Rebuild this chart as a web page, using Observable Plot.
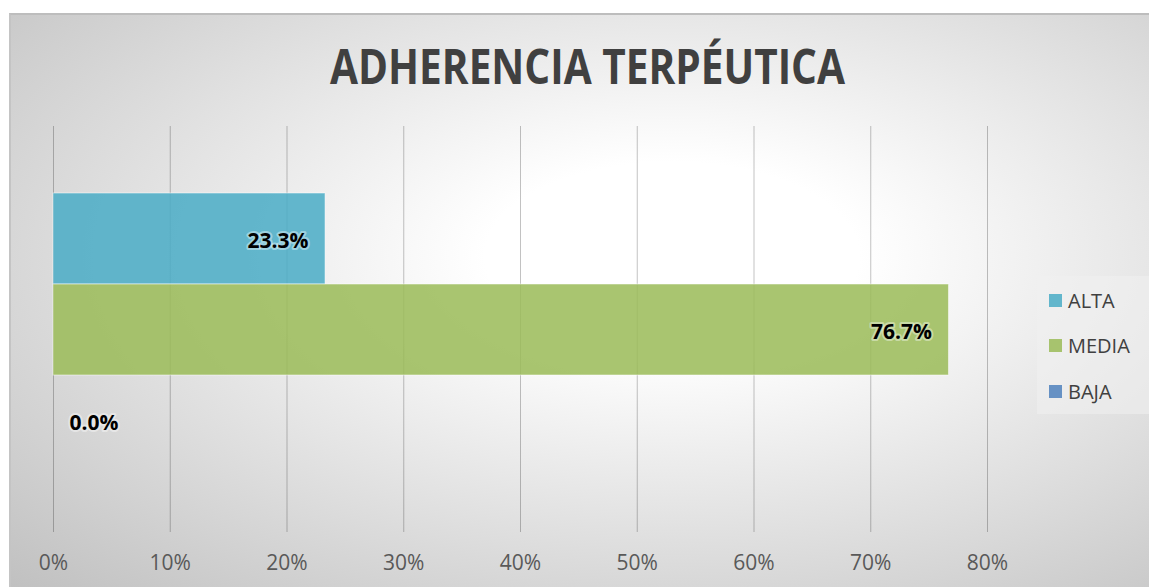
<!DOCTYPE html>
<html>
<head>
<meta charset="utf-8">
<script src="https://cdn.jsdelivr.net/npm/d3@7"></script>
<script src="https://cdn.jsdelivr.net/npm/@observablehq/plot@0.6"></script>
<style>
  html, body { margin: 0; padding: 0; background: #ffffff; }
  #wrap { position: relative; width: 1149px; height: 587px; overflow: hidden; font-family: "Open Sans", sans-serif; }
  #frame { position: absolute; left: 9px; top: 13px; width: 1142px; height: 576px; box-sizing: border-box;
    border-top: 2px solid #bdbdbd; border-left: 2px solid #c4c4c4;
    background: radial-gradient(ellipse farthest-corner at 58% 42%, #ffffff 0%, #ffffff 20%, #c0c0c0 100%); }
  #title { position: absolute; left: 0; width: 1174px; top: 42px; text-align: center; }
  #title span { display: inline-block; font-weight: 700; font-size: 48px; line-height: 48px; color: #404040; white-space: nowrap; transform-origin: center; }
  #legend { position: absolute; left: 1037px; top: 276px; width: 120px; height: 138px; background: rgba(240,240,240,0.55); }
  .row { position: absolute; left: 0; height: 26px; display: flex; align-items: center; font-size: 20px; color: #404040; }
  .sw { width: 13px; height: 13px; margin-left: 12px; margin-right: 6px; }
  #chart { position: absolute; left: 0; top: 0; }
</style>
</head>
<body>
<div id="wrap">
  <div id="frame"></div>
  <div id="title"><span>ADHERENCIA TERPÉUTICA</span></div>
  <div id="chart"></div>
  <div id="legend"></div>
</div>
<script>
// ---- data ----
const titleText = "ADHERENCIA TERPÉUTICA";
const categories = ["ALTA", "MEDIA", "BAJA"];
const values = [0.233, 0.767, 0.0];
const colors = ["#4BACC6", "#9BBB59", "#4F81BD"];
const xTicks = [0, 0.1, 0.2, 0.3, 0.4, 0.5, 0.6, 0.7, 0.8];
const labelTexts = ["23.3%", "76.7%", "0.0%"];

const data = categories.map((c, i) => ({cat: c, value: values[i], label: labelTexts[i]}));

// title width fit (Calibri-like proportions)
const tspan = document.querySelector("#title span");
tspan.textContent = titleText;
tspan.style.transform = `scaleX(${515 / tspan.getBoundingClientRect().width})`;

const chart = Plot.plot({
  width: 1149,
  height: 587,
  marginLeft: 53,
  marginRight: 162,
  marginTop: 126,
  marginBottom: 55,
  style: {background: "transparent", fontFamily: "Open Sans, sans-serif", fontSize: "21px", color: "#595959", overflow: "visible"},
  x: {domain: [0, 0.8], axis: null, label: null},
  y: {domain: categories, range: [193, 466], padding: 0, axis: null, label: null},
  color: {domain: categories, range: colors},
  marks: [
    Plot.ruleX(xTicks, {stroke: "#000", strokeOpacity: 0.24, strokeWidth: 1}),
    Plot.barX(data, {x: "value", y: "cat", fill: "cat", fillOpacity: 0.86, stroke: "#ffffff", strokeOpacity: 0.5, strokeWidth: 1}),
    Plot.axisX({ticks: xTicks, tickFormat: d3.format(".0%"), tickSize: 0, tickPadding: 23, fill: "#595959", fontSize: 21, label: null}),
    Plot.text(data.filter(d => d.value > 0), {x: "value", y: "cat", text: "label", textAnchor: "end", dx: -17, dy: 2,
      fill: "#000", fontWeight: 700, fontSize: 21, stroke: "#ffffff", strokeOpacity: 0.4, strokeWidth: 4, paintOrder: "stroke"}),
    Plot.text(data.filter(d => d.value === 0), {x: "value", y: "cat", text: "label", textAnchor: "start", dx: 16, dy: 2,
      fill: "#000", fontWeight: 700, fontSize: 21, stroke: "#ffffff", strokeOpacity: 0.4, strokeWidth: 4, paintOrder: "stroke"})
  ]
});
document.getElementById("chart").appendChild(chart);

// legend
const legend = document.getElementById("legend");
const rowCenters = [24, 69, 115];
categories.forEach((c, i) => {
  const row = document.createElement("div");
  row.className = "row";
  row.style.top = (rowCenters[i] - 13) + "px";
  const sw = document.createElement("span");
  sw.className = "sw";
  sw.style.background = colors[i];
  sw.style.opacity = 0.86;
  const t = document.createElement("span");
  t.textContent = c;
  row.appendChild(sw);
  row.appendChild(t);
  legend.appendChild(row);
});
</script>
</body>
</html>
